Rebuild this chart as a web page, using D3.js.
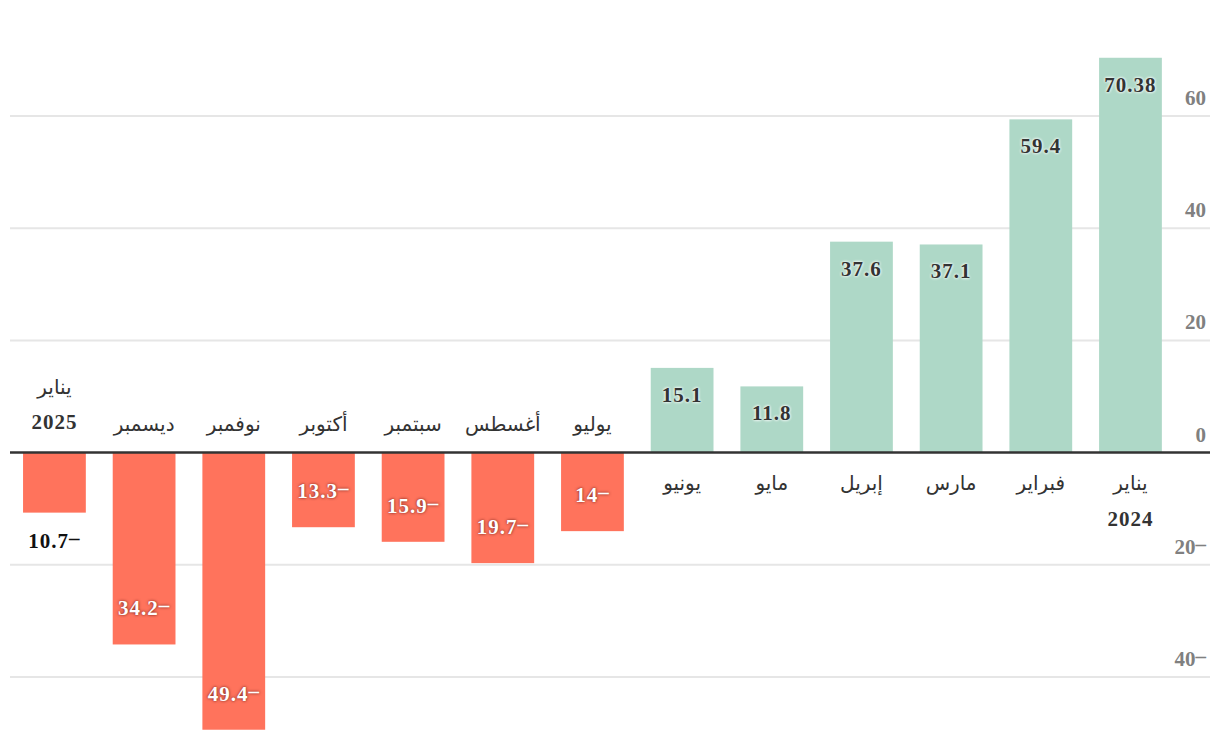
<!DOCTYPE html>
<html><head><meta charset="utf-8">
<script src="https://cdn.jsdelivr.net/npm/d3@7"></script>
<style>
body{margin:0;background:#fff;}
.val{font-family:"Liberation Serif","DejaVu Serif",serif;font-weight:bold;font-size:21px;letter-spacing:1px;}
.val.pos{fill:#333;text-shadow:0 0 3px #fff,0 0 3px #fff;}
.val.neg{fill:#fff;text-shadow:0 0 3px rgba(60,0,0,0.8);}
.val.out{fill:#111;text-shadow:none;}
.mon{font-family:"DejaVu Sans",sans-serif;font-size:20px;fill:#333;}
.yr{font-family:"Liberation Serif","DejaVu Serif",serif;font-weight:bold;font-size:21px;fill:#333;letter-spacing:1px;}
.tick{font-family:"Liberation Serif","DejaVu Serif",serif;font-weight:bold;font-size:21px;fill:#808080;}
</style></head>
<body><svg id="c" width="1220" height="742"></svg>
<script>
const months = ["يناير","فبراير","مارس","إبريل","مايو","يونيو","يوليو","أغسطس","سبتمبر","أكتوبر","نوفمبر","ديسمبر","يناير"];
const years = ["2024","","","","","","","","","","","","2025"];
const values = [70.38,59.4,37.1,37.6,11.8,15.1,-14,-19.7,-15.9,-13.3,-49.4,-34.2,-10.7];
const tickValues = [60,40,20,0,-20,-40];
const tickLabels = ["60","40","20","0","20-","40-"];

const svg = d3.select("#c");
const idx = d3.range(values.length);
const x = d3.scaleBand().domain(idx).range([1175.3, 9.6]).paddingInner(0.3).paddingOuter(0.15);
const y = d3.scaleLinear().domain([-40, 60]).range([677, 116]);

// write "N–" with a raised dash after the number
function writeNum(sel, str) {
  sel.each(function(d, i) {
    const s = typeof str === "function" ? str(d, i) : str;
    const t = d3.select(this);
    if (s.endsWith("-")) {
      t.append("tspan").text(s.slice(0, -1));
      t.append("tspan").attr("dy", -3).text("–");
    } else {
      t.text(s);
    }
  });
}
const fmt = v => v < 0 ? (String(Math.abs(v)) + "-") : String(v);

// gridlines
svg.append("g").selectAll("line").data(tickValues.filter(t => t !== 0)).join("line")
  .attr("x1", 10).attr("x2", 1210)
  .attr("y1", d => y(d)).attr("y2", d => y(d))
  .attr("stroke", "#e6e6e6").attr("stroke-width", 2);

// tick labels
svg.append("g").selectAll("text").data(tickValues).join("text")
  .attr("class", "tick")
  .attr("x", 1206).attr("y", d => y(d) - 18)
  .attr("text-anchor", "end").attr("dominant-baseline", "central")
  .call(writeNum, (d, i) => tickLabels[i]);

// bars
svg.append("g").selectAll("rect").data(idx).join("rect")
  .attr("x", i => x(i)).attr("width", x.bandwidth())
  .attr("y", i => y(Math.max(0, values[i])))
  .attr("height", i => Math.abs(y(values[i]) - y(0)))
  .attr("fill", i => values[i] >= 0 ? "#aed8c7" : "#ff735c");

// zero line
svg.append("line").attr("x1", 10).attr("x2", 1210).attr("y1", y(0)).attr("y2", y(0))
  .attr("stroke", "#333").attr("stroke-width", 2.5);

// value labels
svg.append("g").selectAll("text").data(idx).join("text")
  .attr("class", i => {
    const v = values[i];
    if (v >= 0) return "val pos";
    return Math.abs(v) < 11 ? "val neg out" : "val neg";
  })
  .attr("x", i => x(i) + x.bandwidth() / 2)
  .attr("y", i => {
    const v = values[i];
    if (v >= 0) return y(v) + 27;
    if (Math.abs(v) < 11) return y(v) + 28;
    return y(v) - 36;
  })
  .attr("text-anchor", "middle").attr("dominant-baseline", "central")
  .call(writeNum, i => fmt(values[i]));

// month labels
const mg = svg.append("g");
idx.forEach(i => {
  const v = values[i];
  const cx = x(i) + x.bandwidth() / 2;
  if (v >= 0) {
    mg.append("text").attr("class", "mon").attr("x", cx).attr("y", y(0) + 30)
      .attr("text-anchor", "middle").attr("dominant-baseline", "central").text(months[i]);
    if (years[i]) mg.append("text").attr("class", "yr").attr("x", cx).attr("y", y(0) + 66)
      .attr("text-anchor", "middle").attr("dominant-baseline", "central").text(years[i]);
  } else {
    if (years[i]) {
      mg.append("text").attr("class", "mon").attr("x", cx).attr("y", y(0) - 66)
        .attr("text-anchor", "middle").attr("dominant-baseline", "central").text(months[i]);
      mg.append("text").attr("class", "yr").attr("x", cx).attr("y", y(0) - 31)
        .attr("text-anchor", "middle").attr("dominant-baseline", "central").text(years[i]);
    } else {
      mg.append("text").attr("class", "mon").attr("x", cx).attr("y", y(0) - 29)
        .attr("text-anchor", "middle").attr("dominant-baseline", "central").text(months[i]);
    }
  }
});
</script></body></html>
